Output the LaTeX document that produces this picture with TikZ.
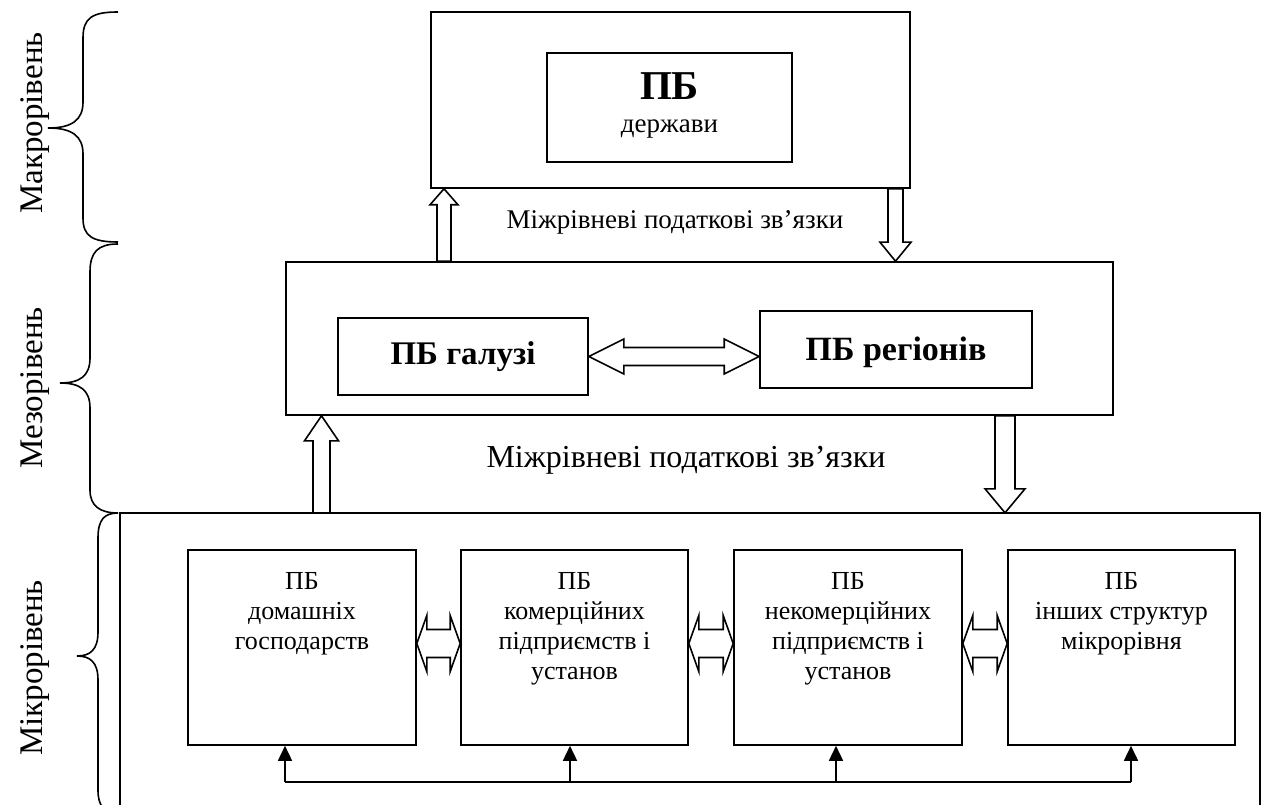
\documentclass[tikz,border=0pt]{standalone}
\usepackage{fontspec}
\setmainfont{Liberation Serif}
\usetikzlibrary{calc,arrows.meta}
\newcommand\hdbl[5]{\draw[blk] (#1) -- ($(#1)+(#3,-#4)$) -- ($(#1)+(#3,-#5)$) -- ($(#2)+(-#3,-#5)$) -- ($(#2)+(-#3,-#4)$) -- (#2) -- ($(#2)+(-#3,#4)$) -- ($(#2)+(-#3,#5)$) -- ($(#1)+(#3,#5)$) -- ($(#1)+(#3,#4)$) -- cycle;}
\newcommand\varr[6]{\draw[blk] (#2) -- ($(#2)+(#4,#6*#3)$) -- ($(#2)+(#5,#6*#3)$) -- ($(#1)+(#5,0)$) -- ($(#1)+(-#5,0)$) -- ($(#2)+(-#5,#6*#3)$) -- ($(#2)+(-#4,#6*#3)$) -- cycle;}
\begin{document}
\begin{tikzpicture}[x=1pt,y=-1pt,
  box/.style={draw, rectangle, inner sep=0pt, line width=1.6pt},
  blk/.style={draw, line width=1.6pt, fill=white, line join=miter},
  lbl/.style={font=\fontsize{33}{33}\selectfont, rotate=90},
  mtxt/.style={font=\fontsize{26}{30}\selectfont, align=center, inner sep=0pt, anchor=north},
  brc/.style={draw, line width=1.6pt},
  bus/.style={draw, line width=1.6pt},
  tip/.style={draw, line width=1.6pt, -{Triangle[length=15pt,width=14pt]}}
  ]
\useasboundingbox (0,0) rectangle (1264,805);
\clip (0,0) rectangle (1264,805);
\fill[white] (0,0) rectangle (1264,805);

% macro level
\node[box, minimum width=479pt, minimum height=176pt] (top) at (670.5,100) {};
\node[box, minimum width=245pt, minimum height=109pt] (state) at (669.5,107.5) {};
\node[font=\bfseries\fontsize{41}{41}\selectfont, inner sep=0pt] (pbs) at ($(state.center)+(0,-21)$) {ПБ};
\node[font=\fontsize{27}{27}\selectfont, inner sep=0pt] (der) at ($(state.center)+(0,22)$) {держави};

% meso level
\node[box, minimum width=827pt, minimum height=153pt] (meso) at (699.5,338.5) {};
\node[box, minimum width=250pt, minimum height=77pt, font=\bfseries\fontsize{33}{33}\selectfont] (gal) at (463,356.5) {ПБ галузі};
\node[box, minimum width=272pt, minimum height=77pt] (reg) at (896,349.5) {};
\node[font=\bfseries\fontsize{34}{34}\selectfont, inner sep=0pt] (regt) at ($(reg.center)+(0,3)$) {ПБ регіонів};
\coordinate (ga) at (gal.east);
\coordinate (ra) at (reg.west |- gal.east);
\hdbl{ga}{ra}{35}{17.5}{9}

% micro level
\node[minimum width=1140pt, minimum height=292pt, inner sep=0pt] (micro) at (690,659) {};
\draw[bus] (micro.south west) -- (micro.north west) -- (micro.north east) -- (micro.south east);

\node[box, minimum width=228pt, minimum height=195pt] (b1) at (302,647.5) {};
\node[box, minimum width=227pt, minimum height=195pt] (b2) at (574.5,647.5) {};
\node[box, minimum width=228pt, minimum height=195pt] (b3) at (848,647.5) {};
\node[box, minimum width=227pt, minimum height=195pt] (b4) at (1121.5,647.5) {};
\node[mtxt] (t1) at ($(b1.north)+(0,23)$) {ПБ\\домашніх\\господарств};
\node[mtxt] (t2) at ($(b2.north)+(0,23)$) {ПБ\\комерційних\\підприємств і\\установ};
\node[mtxt] (t3) at ($(b3.north)+(0,23)$) {ПБ\\некомерційних\\підприємств і\\установ};
\node[mtxt] (t4) at ($(b4.north)+(0,23)$) {ПБ\\інших структур\\мікрорівня};

\coordinate (m1l) at ($(b1.east)+(0,-4)$);
\coordinate (m1r) at ($(b2.west)+(0,-4)$);
\coordinate (m2l) at ($(b2.east)+(0,-4)$);
\coordinate (m2r) at ($(b3.west)+(0,-4)$);
\coordinate (m3l) at ($(b3.east)+(0,-4)$);
\coordinate (m3r) at ($(b4.west)+(0,-4)$);
\hdbl{m1l}{m1r}{10}{28}{14}
\hdbl{m2l}{m2r}{10}{28}{14}
\hdbl{m3l}{m3r}{10}{28}{14}

% bus
\coordinate (busy) at (0,782);
\coordinate (p1) at ($(b1.south)+(-17,0)$);
\coordinate (p2) at ($(b2.south)+(-4.5,0)$);
\coordinate (p3) at ($(b3.south)+(-12,0)$);
\coordinate (p4) at ($(b4.south)+(9.5,0)$);
\draw[bus] (p1 |- busy) -- (p4 |- busy);
\draw[tip] (p1 |- busy) -- (p1);
\draw[tip] (p2 |- busy) -- (p2);
\draw[tip] (p3 |- busy) -- (p3);
\draw[tip] (p4 |- busy) -- (p4);

% inter-level block arrows
\coordinate (xa) at (444,0);
\coordinate (xb) at (895.5,0);
\coordinate (xc) at (321.5,0);
\coordinate (xd) at (1005,0);
\coordinate (a-t) at (xa |- meso.north);
\coordinate (a-h) at (xa |- top.south);
\coordinate (b-t) at (xb |- top.south);
\coordinate (b-h) at (xb |- meso.north);
\coordinate (c-t) at (xc |- micro.north);
\coordinate (c-h) at (xc |- meso.south);
\coordinate (d-t) at (xd |- meso.south);
\coordinate (d-h) at (xd |- micro.north);
\varr{a-t}{a-h}{16}{14}{7}{1}
\varr{b-t}{b-h}{19}{15.5}{7.5}{-1}
\varr{c-t}{c-h}{25}{17}{8.5}{1}
\varr{d-t}{d-h}{24}{20}{10}{-1}

\node[font=\fontsize{27}{27}\selectfont] (link1) at (675,222) {Міжрівневі податкові зв’язки};
\node[font=\fontsize{32}{32}\selectfont] (link2) at (686,460) {Міжрівневі податкові зв’язки};

% braces
\draw[brc] (118,12) .. controls (92,12) and (83,18) .. (83,38) -- (83,102) .. controls (83,120) and (72,128) .. (48,128) .. controls (72,128) and (83,136) .. (83,154) -- (83,218) .. controls (83,236) and (92,242) .. (118,242);
\draw[brc] (118,244) .. controls (98,244) and (90,252) .. (90,272) -- (90,358) .. controls (90,376) and (80,383) .. (60,383) .. controls (80,383) and (90,390) .. (90,408) -- (90,490) .. controls (90,506) and (100,513) .. (118,513);
\draw[brc] (118,513) .. controls (104,513) and (98,520) .. (98,538) -- (98,632) .. controls (98,650) and (90,656) .. (77,656) .. controls (90,656) and (98,662) .. (98,680) -- (98,790) .. controls (98,806) and (104,813) .. (118,813);

\node[lbl] (mak) at (35,123) {Макрорівень};
\node[lbl] (mez) at (35,388) {Мезорівень};
\node[lbl] (mik) at (35,668) {Мікрорівень};
\end{tikzpicture}
\end{document}
